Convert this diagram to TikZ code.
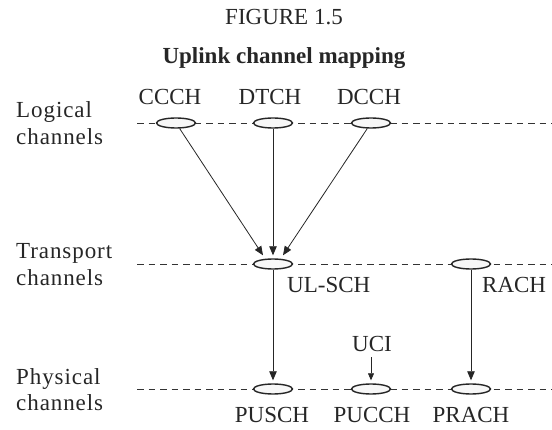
\documentclass[tikz,border=0pt]{standalone}
\usepackage{fontspec}
\setmainfont{Liberation Serif}
\newfontfamily\spacedfont[LetterSpace=4]{Liberation Serif}
\usetikzlibrary{shapes.geometric,arrows.meta}
\begin{document}
\begin{tikzpicture}[x=1pt,y=-1pt,
  lbl/.style={font=\fontsize{23}{27}\selectfont, text=black!85, inner sep=0pt},
  sidelbl/.style={font=\spacedfont\fontsize{23}{27}\selectfont, text=black!85, inner sep=0pt, align=left},
  chan/.style={ellipse, draw=black!85, line width=1.4pt, fill=black!3, minimum width=39pt, minimum height=10pt, inner sep=0pt},
  lane/.style={draw=black!80, line width=0.7pt, dash pattern=on 6.5pt off 5pt},
  arr/.style={draw=black!85, line width=0.8pt, -{Triangle[length=9pt,width=7.5pt]}},
  arrsmall/.style={draw=black!85, line width=0.6pt, -{Triangle[length=7pt,width=6pt]}},
]
\path[use as bounding box] (0,0) rectangle (552,430);

% titles
\node[lbl, anchor=base] (fig) at (284,25) {FIGURE 1.5};
\node[lbl, font=\bfseries\fontsize{23}{27}\selectfont, anchor=base] (title) at (284,64) {Uplink channel mapping};

% side labels (base = baseline of last line)
\node[sidelbl, anchor=base west] (logl) at (16,145) {Logical\\channels};
\node[sidelbl, anchor=base west] (trl) at (16,286) {Transport\\channels};
\node[sidelbl, anchor=base west] (phl) at (16,411) {Physical\\channels};

% lanes
\coordinate (l1s) at (137,123); \coordinate (l1e) at (552,123);
\coordinate (l2s) at (137,264); \coordinate (l2e) at (552,264);
\coordinate (l3s) at (137,389); \coordinate (l3e) at (552,389);
\draw[lane] (l1s) -- (l1e);
\draw[lane] (l2s) -- (l2e);
\draw[lane] (l3s) -- (l3e);

% channel ellipses
\node[chan] (ccch) at (176,123) {};
\node[chan] (dtch) at (273,123) {};
\node[chan] (dcch) at (371,123) {};
\node[chan] (ulsch) at (273,264) {};
\node[chan] (rach) at (471,264) {};
\node[chan] (pusch) at (273,389) {};
\node[chan] (pucch) at (371,389) {};
\node[chan] (prach) at (471,389) {};

% channel labels
\node[lbl, anchor=base] (ccchl) at (170,105) {CCCH};
\node[lbl, anchor=base] (dtchl) at (270,105) {DTCH};
\node[lbl, anchor=base] (dcchl) at (369,105) {DCCH};
\node[lbl, anchor=base west] (ulschl) at (287,293) {UL-SCH};
\node[lbl, anchor=base west] (rachl) at (482,293) {RACH};
\node[lbl, anchor=base] (puschl) at (272,423) {PUSCH};
\node[lbl, anchor=base] (pucchl) at (372,423) {PUCCH};
\node[lbl, anchor=base] (prachl) at (471,423) {PRACH};
\node[lbl, anchor=base] (uci) at (372,352) {UCI};

% mappings
\draw[arr] (ccch) -- ([xshift=-10pt,yshift=3pt]ulsch.north);
\draw[arr] (dtch) -- ([yshift=3pt]ulsch.north);
\draw[arr] (dcch) -- ([xshift=10pt,yshift=3pt]ulsch.north);
\draw[arr] (ulsch) -- ([yshift=3pt]pusch.north);
\draw[arr] (rach) -- ([yshift=3pt]prach.north);
\draw[arrsmall, shorten <=5pt] (uci.south -| pucch.north) -- ([yshift=3pt]pucch.north);
\end{tikzpicture}
\end{document}
